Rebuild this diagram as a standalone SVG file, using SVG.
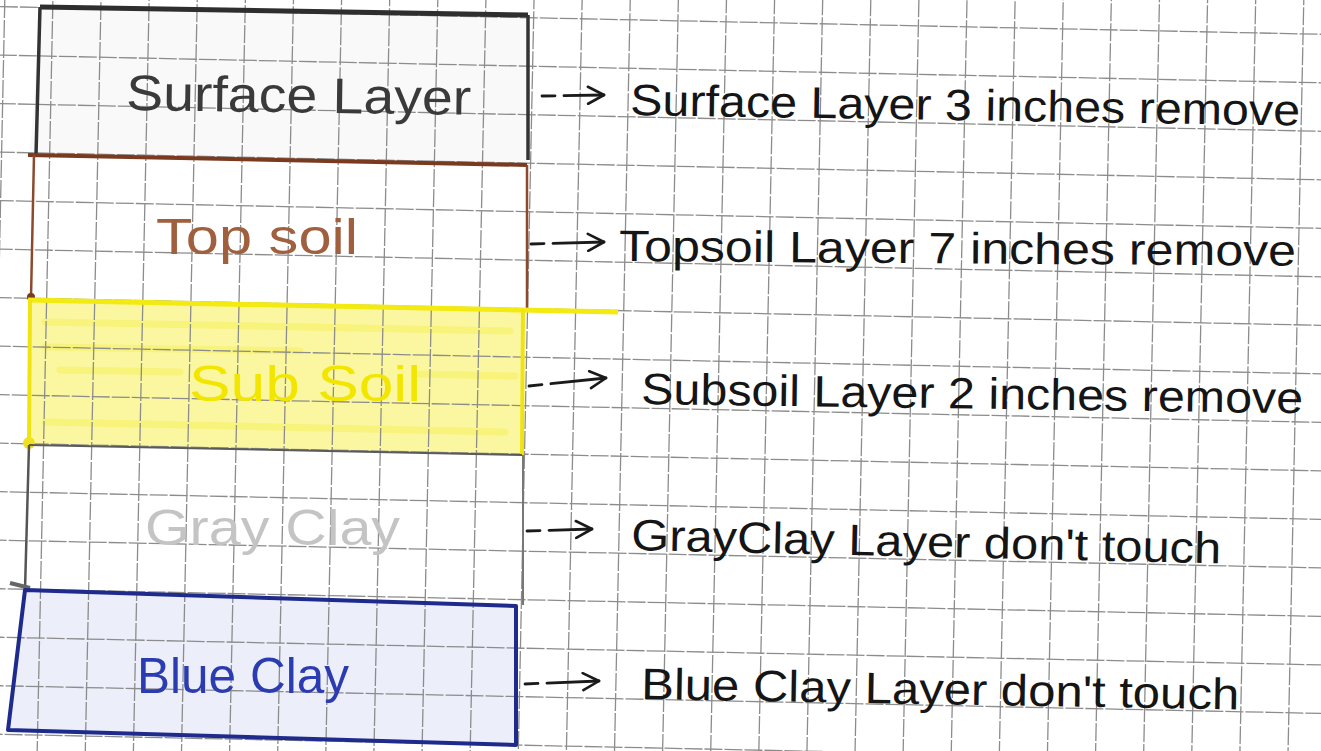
<svg xmlns="http://www.w3.org/2000/svg" width="1321" height="751" viewBox="0 0 1321 751">
  <style>
    .hand { font-family: "Liberation Sans", Arial, sans-serif; }
    .note { font-size: 44px; fill: #151515; }
    .lbl { font-size: 50px; }
    .grid { fill: none; stroke: #8c8c8c; stroke-width: 1.3; stroke-dasharray: 18 2; }
    .conn { fill: none; stroke: #1a1a1a; stroke-width: 2.8; stroke-dasharray: 13 9 80; stroke-linecap: round; marker-end: url(#chev); }
  </style>
  <defs>
    <marker id="chev" viewBox="0 0 20 20" refX="18" refY="10" markerWidth="20" markerHeight="20" orient="auto" markerUnits="userSpaceOnUse">
      <path d="M2 1.5 L18 10 L2 18.5" fill="none" stroke="#1a1a1a" stroke-width="2.6" stroke-linejoin="round" stroke-linecap="round"/>
    </marker>
  </defs>

  <rect width="1321" height="751" fill="#ffffff"/>

  <!-- layer fills (under grid) -->
  <polygon points="40,7 528,15 528,165 30,155" fill="#f3f3f3" opacity="0.5"/>
  <polygon points="30,299 523,310 522,455 28,445" fill="#fbf7a0"/>
  <g stroke="#f4ec38" stroke-width="7" opacity="0.35" stroke-linecap="round">
    <path d="M45,322 L510,331"/>
    <path d="M45,347 L300,351"/>
    <path d="M60,370 L180,372"/>
    <path d="M420,374 L515,376"/>
    <path d="M45,422 L505,432"/>
  </g>
  <polygon points="25,590 516,606 516,745 8,730" fill="#eceef9"/>

  <!-- graph paper grid -->
  <g transform="rotate(1.2)">
    <path class="grid" d="M-43.3 -60 V790 M4.8 -60 V790 M52.9 -60 V790 M101 -60 V790 M149.1 -60 V790 M197.2 -60 V790 M245.3 -60 V790 M293.4 -60 V790 M341.5 -60 V790 M389.6 -60 V790 M437.7 -60 V790 M485.8 -60 V790 M533.9 -60 V790 M582 -60 V790 M630.1 -60 V790 M678.2 -60 V790 M726.3 -60 V790 M774.4 -60 V790 M822.5 -60 V790 M870.6 -60 V790 M918.7 -60 V790 M966.8 -60 V790 M1014.9 -60 V790 M1063 -60 V790 M1111.1 -60 V790 M1159.2 -60 V790 M1207.3 -60 V790 M1255.4 -60 V790 M1303.5 -60 V790 M1351.6 -60 V790"/>
    <path class="grid" d="M-60 -41.9 H1400 M-60 6.6 H1400 M-60 55.1 H1400 M-60 103.6 H1400 M-60 152.1 H1400 M-60 200.6 H1400 M-60 249.1 H1400 M-60 297.6 H1400 M-60 346.1 H1400 M-60 394.6 H1400 M-60 443.1 H1400 M-60 491.6 H1400 M-60 540.1 H1400 M-60 588.6 H1400 M-60 637.1 H1400 M-60 685.6 H1400 M-60 734.1 H1400"/>
  </g>

  <g id="surface-layer">
    <path d="M40,7 L528,15" stroke="#2e2e2e" stroke-width="5" fill="none"/>
    <path d="M528,15 L528,160 M40,7 L36,155" stroke="#333333" stroke-width="3.5" fill="none"/>
    <text class="hand lbl" x="126" y="110" textLength="345" lengthAdjust="spacingAndGlyphs" fill="#3a3a3a" transform="rotate(0.8 126 110)">Surface Layer</text>
  </g>

  <g id="topsoil-layer">
    <path d="M28,155 L527,165" stroke="#7a3a20" stroke-width="4" fill="none"/>
    <path d="M34,155 L31,298 M527,165 L527,310" stroke="#8b4a2e" stroke-width="2.5" fill="none"/>
    <circle cx="31" cy="297" r="4" fill="#7a3a20"/>
    <text class="hand lbl" x="156" y="254" textLength="202" lengthAdjust="spacingAndGlyphs" fill="#a0603e" font-size="54">Top soil</text>
  </g>

  <g id="subsoil-layer">
    <path d="M28,300 L618,312" stroke="#f2ea10" stroke-width="5" fill="none"/>
    <path d="M523,310 L522,455 M30,300 L29,445" stroke="#f0e410" stroke-width="4" fill="none"/>
    <circle cx="29" cy="443" r="6" fill="#efe020"/>
    <text class="hand lbl" x="189" y="401" textLength="232" lengthAdjust="spacingAndGlyphs" fill="#f2e600" font-size="54">Sub Soil</text>
  </g>

  <g id="gray-clay-layer">
    <path d="M29,445 L522,455" stroke="#5a5a5a" stroke-width="2" fill="none"/>
    <path d="M29,445 L25,590" stroke="#555555" stroke-width="2.5" fill="none"/>
    <path d="M523,455 L523,605" stroke="#777777" stroke-width="2" fill="none"/>
    <text class="hand lbl" x="145" y="545" textLength="255" lengthAdjust="spacingAndGlyphs" fill="#c4c4c4" font-size="48">Gray Clay</text>
  </g>

  <g id="blue-clay-layer">
    <path d="M10,583 L30,588" stroke="#666666" stroke-width="4" fill="none"/>
    <polygon points="25,590 516,606 516,745 8,730" fill="none" stroke="#1f2b8c" stroke-width="4" stroke-linejoin="round"/>
    <text class="hand lbl" x="137" y="693" textLength="212" lengthAdjust="spacingAndGlyphs" fill="#2b3bb0">Blue Clay</text>
  </g>

  <g id="note-surface">
    <text class="hand note" x="630" y="115" textLength="670" lengthAdjust="spacingAndGlyphs" transform="rotate(0.9 630 115)">Surface Layer  3 inches remove</text>
  </g>
  <g id="note-topsoil">
    <text class="hand note" x="619" y="261" textLength="677" lengthAdjust="spacingAndGlyphs" transform="rotate(0.4 619 261)">Topsoil Layer  7 inches remove</text>
  </g>
  <g id="note-subsoil">
    <text class="hand note" x="641" y="404" textLength="662" lengthAdjust="spacingAndGlyphs" transform="rotate(0.8 641 404)">Subsoil Layer  2 inches remove</text>
  </g>
  <g id="note-gray-clay">
    <text class="hand note" x="631" y="550" textLength="590" lengthAdjust="spacingAndGlyphs" transform="rotate(1.3 631 550)">GrayClay Layer  don't touch</text>
  </g>
  <g id="note-blue-clay">
    <text class="hand note" x="641" y="699" textLength="598" lengthAdjust="spacingAndGlyphs" transform="rotate(1 641 699)">Blue Clay Layer  don't touch</text>
  </g>

  <g id="connectors">
    <path class="conn" d="M542,96 L604,95"/>
    <path class="conn" d="M531,244 L604,242"/>
    <path class="conn" d="M529,386 L606,378"/>
    <path class="conn" d="M527,531 L592,529"/>
    <path class="conn" d="M525,684 L599,681"/>
  </g>
</svg>
